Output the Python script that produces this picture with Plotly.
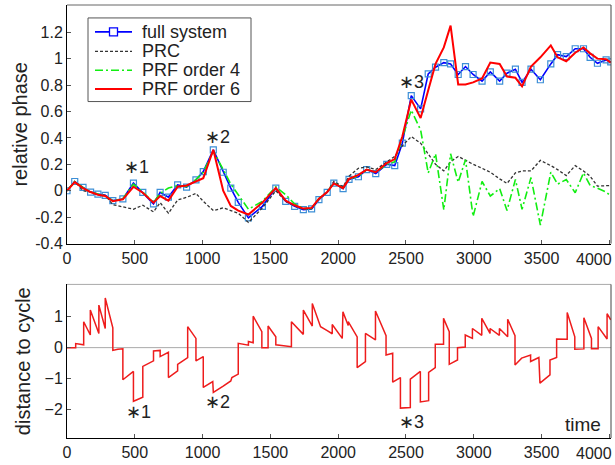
import plotly.graph_objects as go

# Event times (kick instants) shared by the phase traces
T = [0, 57, 118, 174, 228, 282, 338, 412, 490, 559, 638, 687, 748, 816, 882,
     951, 1005, 1079, 1152, 1208, 1263, 1338, 1441, 1540, 1613, 1679, 1743,
     1804, 1858, 1919, 1968, 2036, 2080, 2149, 2210, 2277, 2358, 2417, 2473,
     2539, 2608, 2664, 2718, 2779, 2829, 2885, 2939, 2995, 3061, 3122, 3191,
     3245, 3307, 3356, 3422, 3491, 3568, 3618, 3682, 3748, 3809, 3858, 3912,
     3976, 4010]

full_system = [0.0, 0.07, 0.025, -0.01, -0.025, -0.035, -0.075, -0.062, 0.058,
               -0.012, -0.10, -0.012, -0.048, 0.045, 0.028, 0.083, 0.145, 0.31,
               0.14, 0.02, -0.088, -0.205, -0.118, 0.02, -0.08, -0.118, -0.143,
               -0.138, -0.068, -0.012, 0.058, 0.016, 0.086, 0.106, 0.16, 0.13,
               0.20, 0.19, 0.36, 0.72, 0.62, 0.885, 0.935, 0.97, 0.96, 0.88,
               0.94, 0.88, 0.83, 0.90, 0.83, 0.89, 0.92, 0.82, 0.92, 0.84, 0.96,
               1.03, 1.015, 1.075, 1.075, 1.01, 0.965, 0.99, 0.975]

prc = [0.0, 0.07, 0.0, -0.01, -0.03, -0.035, -0.105, -0.12, -0.14, -0.11,
       -0.16, -0.09, -0.17, -0.07, -0.05, -0.02, -0.08, -0.15, -0.13, -0.15,
       -0.17, -0.24, -0.13, 0.0, -0.08, -0.115, -0.14, -0.135, -0.06, -0.005,
       0.07, 0.03, 0.11, 0.17, 0.18, 0.16, 0.22, 0.26, 0.34, 0.41, 0.36, 0.28,
       0.20, 0.15, 0.22, 0.26, 0.23, 0.20, 0.17, 0.14, 0.09, 0.055, 0.135,
       0.15, 0.15, 0.23, 0.19, 0.16, 0.115, 0.19, 0.15, 0.11, 0.035, 0.04,
       0.04]

prf_order4 = [0.0, 0.07, 0.025, -0.01, -0.025, -0.04, -0.075, -0.06, 0.05,
              -0.01, -0.09, -0.02, 0.02, 0.04, 0.03, 0.085, 0.14, 0.30, 0.16,
              0.05, -0.03, -0.14, -0.08, 0.03, -0.03, -0.10, -0.135, -0.135,
              -0.06, -0.01, 0.06, 0.02, 0.09, 0.11, 0.16, 0.14, 0.20, 0.22,
              0.40, 0.61, 0.46, 0.135, 0.28, -0.145, 0.28, 0.065, 0.235,
              -0.195, 0.07, -0.04, 0.016, -0.15, 0.085, -0.14, 0.10, -0.26,
              0.14, 0.05, 0.085, -0.015, 0.135, 0.04, 0.02, -0.01, -0.04]

prf_order6 = [0.0, 0.065, 0.02, -0.01, -0.03, -0.04, -0.08, -0.065, 0.03,
              -0.015, -0.09, -0.04, -0.075, 0.03, 0.04, 0.07, 0.095, 0.31, 0.0,
              -0.115, -0.15, -0.18, -0.09, 0.02, -0.075, -0.11, -0.135, -0.13,
              -0.06, -0.01, 0.055, 0.02, 0.09, 0.12, 0.16, 0.14, 0.21, 0.24,
              0.41, 0.69, 0.55, 0.76, 0.96, 1.085, 1.25, 0.805, 0.805, 0.82,
              0.85, 0.97, 0.96, 0.865, 0.855, 0.79, 0.94, 1.01, 1.10, 1.01,
              0.98, 1.045, 1.085, 1.04, 1.0, 0.995, 0.97]

# Distance to the limit cycle (repeated times mark instantaneous kicks)
dist_t = [0, 64, 64, 123, 123, 172, 172, 235, 235, 282, 282, 338, 338, 375,
          412, 412, 490, 490, 559, 559, 638, 638, 687, 687, 748, 748, 816, 816,
          890, 890, 951, 951, 1005, 1005, 1075, 1079, 1152, 1208, 1216, 1263,
          1263, 1338, 1338, 1373, 1373, 1437, 1437, 1483, 1483, 1540, 1540,
          1655, 1655, 1743, 1743, 1809, 1809, 1870, 1919, 1956, 1956, 2030,
          2035, 2074, 2074, 2140, 2140, 2201, 2201, 2275, 2275, 2353, 2353,
          2402, 2402, 2459, 2459, 2532, 2532, 2606, 2606, 2667, 2667, 2716,
          2716, 2777, 2777, 2819, 2819, 2880, 2880, 2937, 2937, 2990, 2990,
          3059, 3059, 3120, 3120, 3189, 3189, 3250, 3250, 3304, 3304, 3353,
          3419, 3419, 3480, 3488, 3562, 3562, 3611, 3611, 3689, 3689, 3745,
          3745, 3812, 3812, 3868, 3868, 3917, 3917, 3983, 3983, 4010]
dist_v = [0.0, 0.0, 0.13, 0.09, 0.84, 0.41, 1.22, 0.46, 1.38, 0.62, 1.61, 0.645,
          -0.09, -0.05, -0.04, -1.04, -0.77, -1.74, -1.61, -0.61, -0.43, -0.11,
          -0.09, -0.29, -0.15, -0.97, -0.75, -0.54, -0.32, 0.68, 0.30, -0.43,
          -0.29, -1.29, -1.10, -1.45, -1.25, -1.08, -0.97, -0.86, 0.14, 0.08,
          0.20, 0.16, 1.02, 0.52, 0.0, 0.0, 0.70, 0.35, 0.09, 0.03, 0.84, 0.43,
          1.22, 0.70, 1.43, 0.68, 0.55, 0.45, 0.75, 0.30, 1.16, 0.72, 0.84,
          0.35, -0.65, -0.45, 0.46, 0.25, 1.19, 0.39, -0.24, -0.18, -1.12,
          -0.97, -1.96, -1.94, -1.02, -0.77, -1.76, -1.72, -0.80, -0.65, 0.11,
          0.11, 0.95, 0.52, -0.54, -0.40, 0.0, 0.02, 0.41, 0.30, 0.62, 0.40,
          0.95, 0.46, 0.62, 0.40, 0.62, 0.35, 0.92, 0.39, -0.56, -0.34, -0.24,
          -0.45, -0.32, -1.15, -0.88, -0.40, -0.32, 0.28, 0.27, 1.14, 0.35,
          -0.05, -0.04, 0.97, 0.30, -0.04, -0.04, 0.68, 0.28, 1.10, 0.90]

phase_ticks = [-0.4, -0.2, 0, 0.2, 0.4, 0.6, 0.8, 1, 1.2]
dist_ticks = [-2, -1, 0, 1]
time_ticks = [0, 500, 1000, 1500, 2000, 2500, 3000, 3500, 4000]

series_names = ["full system", "PRC", "PRF order 4", "PRF order 6"]
series_colors = ["#0000ff", "#333333", "#11ee11", "#ff0000"]
series_dash = ["solid", "3px,2px", "8px,3px,2px,3px", "solid"]
series_width = [1.6, 1.3, 1.6, 2.0]

FONT = "Liberation Sans, Arial, Helvetica, sans-serif"
W, H = 615, 465
ML, MR, MT, MB = 67, 4, 5, 25


def px_to_paper(px, py):
    return ((px - ML) / (W - ML - MR), (H - MB - py) / (H - MT - MB))


fig = go.Figure()

phase_values = [full_system, prc, prf_order4, prf_order6]
for i, vals in enumerate(phase_values):
    if i == 0:
        kw = dict(mode="lines+markers",
                  marker=dict(symbol="square-open", size=6, color="#3d8fd6",
                              line=dict(width=1.2, color="#3d8fd6")))
    else:
        kw = dict(mode="lines")
    fig.add_trace(go.Scatter(
        x=T, y=vals, name=series_names[i], showlegend=False,
        line=dict(color=series_colors[i], width=series_width[i],
                  dash=series_dash[i]),
        xaxis="x", yaxis="y", **kw))

fig.add_trace(go.Scatter(
    x=dist_t, y=dist_v, mode="lines", showlegend=False,
    line=dict(color="#ee1c1c", width=1.5),
    xaxis="x2", yaxis="y2"))

axis_common = dict(
    showline=True, linecolor="black", linewidth=1, mirror=False,
    ticks="inside", ticklen=4, tickcolor="#555", tickwidth=1,
    showgrid=False, zeroline=False,
    tickfont=dict(family=FONT, size=16, color="#222"),
)
time_text = [str(v) if v != 4000 else "" for v in time_ticks]

fig.update_layout(
    width=W, height=H,
    margin=dict(l=ML, r=MR, t=MT, b=MB),
    plot_bgcolor="white", paper_bgcolor="white",
    font=dict(family=FONT, color="#222"),
    showlegend=False,
    xaxis=dict(axis_common, domain=[0, 1], range=[0, 4012],
               tickvals=time_ticks, ticktext=time_text, anchor="y"),
    yaxis=dict(axis_common, domain=[0.449, 1], range=[-0.4, 1.406],
               tickvals=phase_ticks,
               ticktext=[("%g" % v) for v in phase_ticks],
               anchor="x",
               title=dict(text="relative phase", standoff=2,
                          font=dict(family=FONT, size=20, color="#222"))),
    xaxis2=dict(axis_common, domain=[0, 1], range=[0, 4012],
                tickvals=time_ticks, ticktext=time_text, anchor="y2"),
    yaxis2=dict(axis_common, domain=[0, 0.3547], range=[-2.93, 2.05],
                tickvals=dist_ticks, anchor="x2",
                title=dict(text="distance to cycle", standoff=8,
                           font=dict(family=FONT, size=20, color="#222"))),
)

# Last time label, pulled inside the figure edge
for py in (261, 455.5):
    lx, ly = px_to_paper(594, py)
    fig.add_annotation(x=lx, y=ly, xref="paper", yref="paper", text="4000",
                       xanchor="center", yanchor="middle", showarrow=False,
                       font=dict(family=FONT, size=16, color="#222"))

# Box frame: top and right edges of both panels
for xr, yr, top_col in (("x domain", "y domain", "#666"),
                        ("x2 domain", "y2 domain", "#aaa")):
    fig.add_shape(type="line", xref=xr, yref=yr, x0=0, x1=1, y0=1, y1=1,
                  line=dict(color=top_col, width=1))
    fig.add_shape(type="line", xref=xr, yref=yr, x0=1, x1=1, y0=0, y1=1,
                  line=dict(color="#444", width=1))

# Zero reference in the distance panel
fig.add_shape(type="line", xref="x2 domain", yref="y2", x0=0, x1=1, y0=0, y1=0,
              line=dict(color="#aaaaaa", width=1), layer="below")

# Legend box with line samples
bx0, by0 = px_to_paper(88, 102)
bx1, by1 = px_to_paper(251, 18)
fig.add_shape(type="rect", xref="paper", yref="paper",
              x0=bx0, y0=by0, x1=bx1, y1=by1,
              line=dict(color="#555", width=1), fillcolor="white")
row_y = [32, 51.5, 70.5, 89.5]
for i, name in enumerate(series_names):
    lx0, ly = px_to_paper(95, row_y[i])
    lx1, _ = px_to_paper(132, row_y[i])
    fig.add_shape(type="line", xref="paper", yref="paper",
                  x0=lx0, x1=lx1, y0=ly, y1=ly,
                  line=dict(color=series_colors[i], width=series_width[i],
                            dash=series_dash[i]))
    tx, _ = px_to_paper(140, row_y[i])
    fig.add_annotation(x=tx, y=ly, xref="paper", yref="paper", text=name,
                       xanchor="left", yanchor="middle", showarrow=False,
                       font=dict(family=FONT, size=18, color="#222"))
mx0, my0 = px_to_paper(109.5, row_y[0] + 4)
mx1, my1 = px_to_paper(117.5, row_y[0] - 4)
fig.add_shape(type="rect", xref="paper", yref="paper",
              x0=mx0, y0=my0, x1=mx1, y1=my1,
              line=dict(color="#0000ff", width=1.3), fillcolor="white")

marks_top = [(516, 0.177, "∗1"), (1113, 0.41, "∗2"), (2544, 0.82, "∗3")]
marks_bottom = [(524, -2.09, "∗1"), (1113, -1.76, "∗2"), (2537, -2.41, "∗3")]
for x, y, s in marks_top:
    fig.add_annotation(x=x, y=y, xref="x", yref="y", text=s, showarrow=False,
                       font=dict(family=FONT, size=18, color="#222"))
for x, y, s in marks_bottom:
    fig.add_annotation(x=x, y=y, xref="x2", yref="y2", text=s, showarrow=False,
                       font=dict(family=FONT, size=18, color="#222"))
fig.add_annotation(x=3805, y=-2.5, xref="x2", yref="y2", text="time",
                   showarrow=False,
                   font=dict(family=FONT, size=19, color="#222"))

fig.write_html("out.html")
